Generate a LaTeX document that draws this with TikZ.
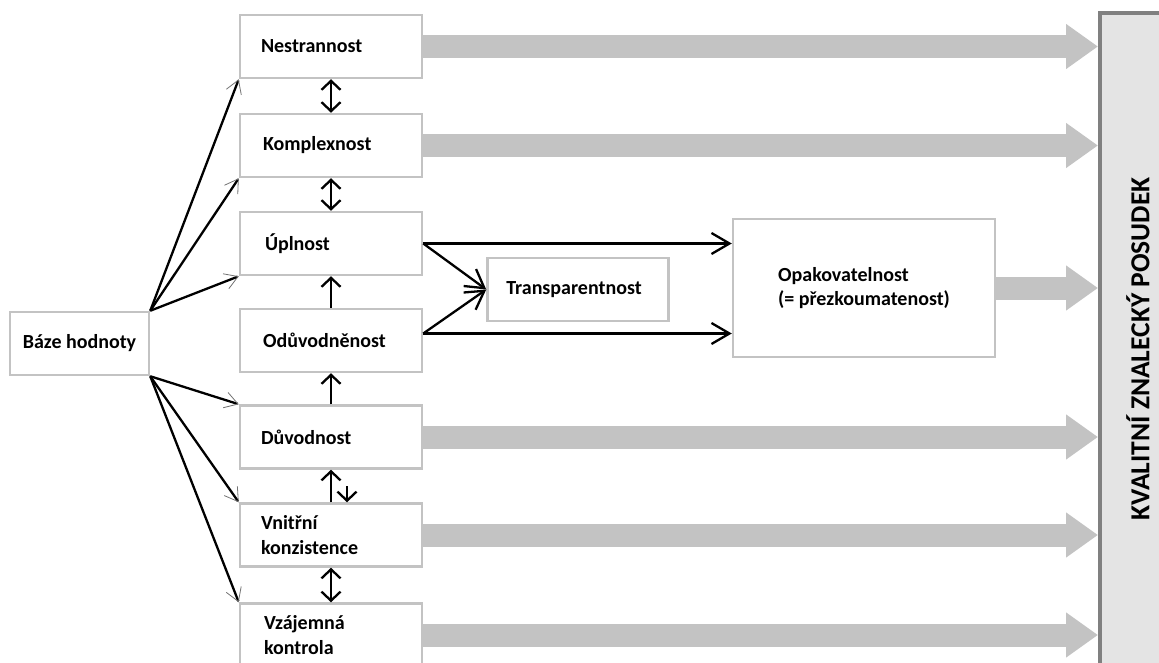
\documentclass[tikz,border=0pt]{standalone}
\usepackage{fontspec}
\setmainfont{Carlito}
\usetikzlibrary{arrows.meta,calc}
\definecolor{boxline}{HTML}{C3C3C3}
\definecolor{flow}{HTML}{C3C3C3}
\definecolor{goalfill}{HTML}{E4E4E4}
\definecolor{goalline}{HTML}{808080}
\tikzset{
  crit/.style={draw=boxline, line width=2.5pt, fill=white, minimum width=182pt,
    minimum height=63pt, inner sep=0pt, text width=140pt, align=left,
    font=\fontsize{20pt}{24.5pt}\selectfont\bfseries},
  plainbox/.style={draw=boxline, line width=2.5pt, fill=white, inner sep=0pt,
    font=\fontsize{20pt}{24.5pt}\selectfont\bfseries},
  link/.style={line width=2.3pt, black},
  thinhead/.style={link, -{Straight Barb[length=13pt, width=16pt, line width=0.8pt, color=black!55]}},
  vhead/.tip={Straight Barb[length=9pt, width=19pt]},
  hhead/.style={link, -{Straight Barb[length=18pt, width=21pt]}},
  flowarrow/.style={line width=23pt, draw=flow, -{Triangle[length=32pt, width=43pt, color=flow]}},
}
\begin{document}
\begin{tikzpicture}[x=1pt, y=-1pt]
\useasboundingbox (0,0) rectangle (1159,663);
\clip (0,0) rectangle (1159,663);

% quality criteria column
\node[crit] (nes) at (331,46.5) {Nestrannost};
\node[crit] (kom) at (331,145.5) {\hspace*{2pt}Komplexnost};
\node[crit] (upl) at (331,243.5) {\hspace*{4pt}Úplnost};
\node[crit] (odu) at (331,340.5) {\hspace*{2pt}Odůvodněnost};
\node[crit] (duv) at (331,437) {Důvodnost};
\node[crit] (vni) at (331,535) {Vnitřní\\konzistence};
\node[crit] (vza) at (331,635) {\hspace*{3pt}Vzájemná\\\hspace*{3pt}kontrola};

% source and derived properties
\node[plainbox, minimum width=139pt, minimum height=63pt] (baze) at (79.5,343.5) {Báze hodnoty};
\node[plainbox, minimum width=181pt, minimum height=63pt] (tra) at (578,289.5) {\hspace*{-8pt}Transparentnost};
\node[plainbox, minimum width=262pt, minimum height=138pt, align=left] (opak) at (864,288) {Opakovatelnost\\(= přezkoumatenost)};

% resulting expert opinion
\node[draw=goalline, fill=goalfill, line width=4pt, minimum width=80pt, minimum height=680pt,
  inner sep=0pt] (kq) at (1140,353) {};
\node[rotate=90, font=\fontsize{27.5pt}{30pt}\selectfont\bfseries] (kqt) at (1138,349)
  {KVALITNÍ ZNALECKÝ POSUDEK};

% broad flows into the opinion
\foreach \n in {nes,kom,opak,duv,vni,vza}
  \draw[flowarrow] (\n.east) -- (\n.east -| kq.west);

% fan-out from the value basis
\foreach \n in {nes,kom,upl}
  \draw[thinhead] (baze.north east) -- (\n.south west);
\foreach \n in {duv,vni,vza}
  \draw[thinhead] (baze.south east) -- (\n.north west);

% links between criteria
\draw[link, vhead-vhead] (nes.south) -- (kom.north);
\draw[link, vhead-vhead] (kom.south) -- (upl.north);
\draw[link, -vhead] (odu.north) -- (upl.south);
\draw[link, -vhead] (duv.north) -- (odu.south);
\draw[link, -vhead] (vni.north) -- (duv.south);
\draw[link, -vhead] ([xshift=16pt, yshift=16pt]vni.north) -- ([xshift=16pt]vni.north);
\draw[link, vhead-vhead] (vni.south) -- (vza.north);

% paths towards repeatability
\coordinate (uplout) at ([yshift=0pt]upl.east);
\coordinate (oduout) at ([yshift=7pt]odu.east);
\draw[hhead] (uplout) -- (uplout -| opak.west);
\draw[hhead] (oduout) -- (oduout -| opak.west);
\draw[hhead] (uplout) -- (tra.west);
\draw[hhead] (oduout) -- (tra.west);
\end{tikzpicture}
\end{document}
